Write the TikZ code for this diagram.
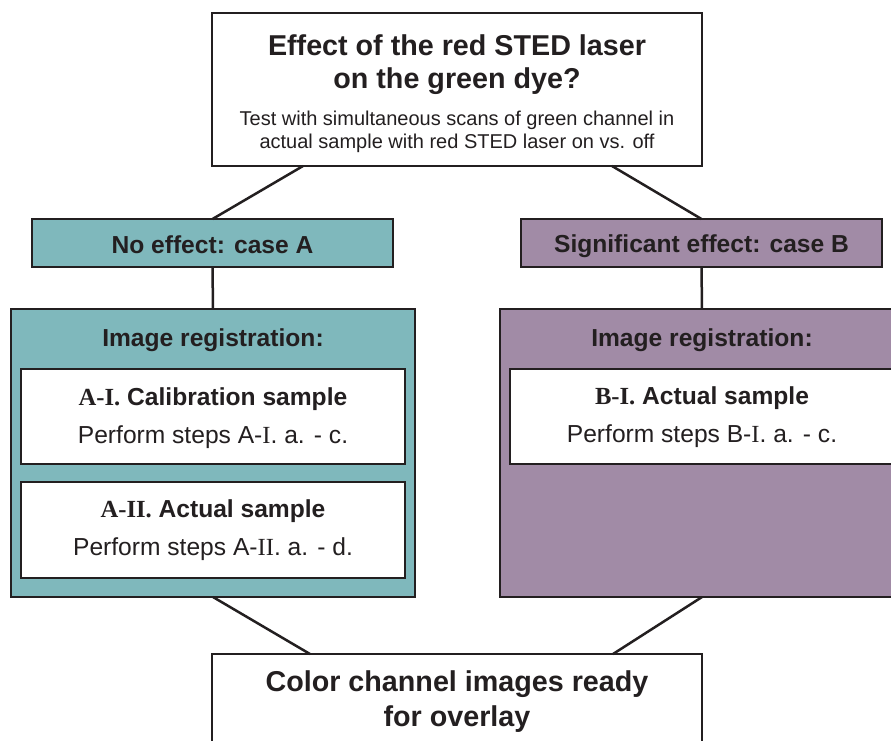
\documentclass[tikz,border=0pt]{standalone}
\usepackage{fontspec}
\setmainfont{Liberation Sans}
\newfontfamily\serifrm{Liberation Serif}
\usetikzlibrary{calc}
\definecolor{ink}{HTML}{231F20}
\definecolor{tealA}{HTML}{7FB8BC}
\definecolor{purpB}{HTML}{A18BA6}
\begin{document}
\begin{tikzpicture}[x=1pt,y=-1pt,
  box/.style={draw=ink, line width=2.5pt, rectangle, inner sep=0pt, outer sep=0pt},
  txt/.style={anchor=base, text=ink, inner sep=0pt, outer sep=0pt},
  big/.style={font=\fontsize{28.7}{33}\selectfont\bfseries},
  small/.style={font=\fontsize{20}{23}\selectfont},
  mid/.style={font=\fontsize{24.6}{28}\selectfont\bfseries},
  midr/.style={font=\fontsize{24.6}{28}\selectfont},
  link/.style={draw=ink, line width=2.5pt}]
\useasboundingbox (0,0) rectangle (891,740);
\clip (0,0) rectangle (891,740);
% boxes
\node[box, fill=white, minimum width=490pt, minimum height=153pt] (top) at (457,89.5) {};
\node[box, fill=tealA, minimum width=361pt, minimum height=48pt] (caseA) at (212.5,243) {};
\node[box, fill=purpB, minimum width=361pt, minimum height=48pt] (caseB) at (701.5,243) {};
\node[box, fill=tealA, minimum width=404pt, minimum height=288pt] (regA) at (213,453) {};
\node[box, fill=purpB, minimum width=404pt, minimum height=288pt] (regB) at (702,453) {};
\node[box, fill=white, minimum width=384pt, minimum height=95pt] (AI) at (213,416.5) {};
\node[box, fill=white, minimum width=384pt, minimum height=96pt] (AII) at (213,530) {};
\node[box, fill=white, minimum width=384pt, minimum height=95pt] (BI) at (702,416.5) {};
\node[box, fill=white, minimum width=490pt, minimum height=153pt] (bot) at (457,730.5) {};
% connectors
\draw[link] ($(top.south)+(-154,0)$) -- (caseA.north);
\draw[link] ($(top.south)+(155,0)$) -- (caseB.north);
\draw[link] (caseA.south) -- (regA.north);
\draw[link] (caseB.south) -- (regB.north);
\draw[link] (regA.south) -- ($(bot.north)+(-147,0)$);
\draw[link] (regB.south) -- ($(bot.north)+(156,0)$);
% texts
\node[txt, big] (t1) at (457,55) {Effect of the red STED laser};
\node[txt, big] (t2) at (457,88) {on the green dye?};
\node[txt, small] (t3) at (457,125) {Test with simultaneous scans of green channel in};
\node[txt, small] (t4) at (457,148) {actual sample with red STED laser on vs. off};
\node[txt, mid] (ta) at (212.5,253) {No effect: case A};
\node[txt, mid] (tb) at (701.5,252) {Significant effect: case B};
\node[txt, mid] (ra) at (213,346) {Image registration:};
\node[txt, mid] (rb) at (702,346) {Image registration:};
\node[txt, mid] (ai1) at (213,405) {{\serifrm A-I.} Calibration sample};
\node[txt, midr] (ai2) at (213,443) {Perform steps A-{\serifrm I}. a. - c.};
\node[txt, mid] (aii1) at (213,517) {{\serifrm A-II.} Actual sample};
\node[txt, midr] (aii2) at (213,555) {Perform steps A-{\serifrm II}. a. - d.};
\node[txt, mid] (bi1) at (702,404) {{\serifrm B-I.} Actual sample};
\node[txt, midr] (bi2) at (702,442) {Perform steps B-{\serifrm I}. a. - c.};
\node[txt, big] (c1) at (457,691) {Color channel images ready};
\node[txt, big] (c2) at (457,726) {for overlay};
\end{tikzpicture}
\end{document}
